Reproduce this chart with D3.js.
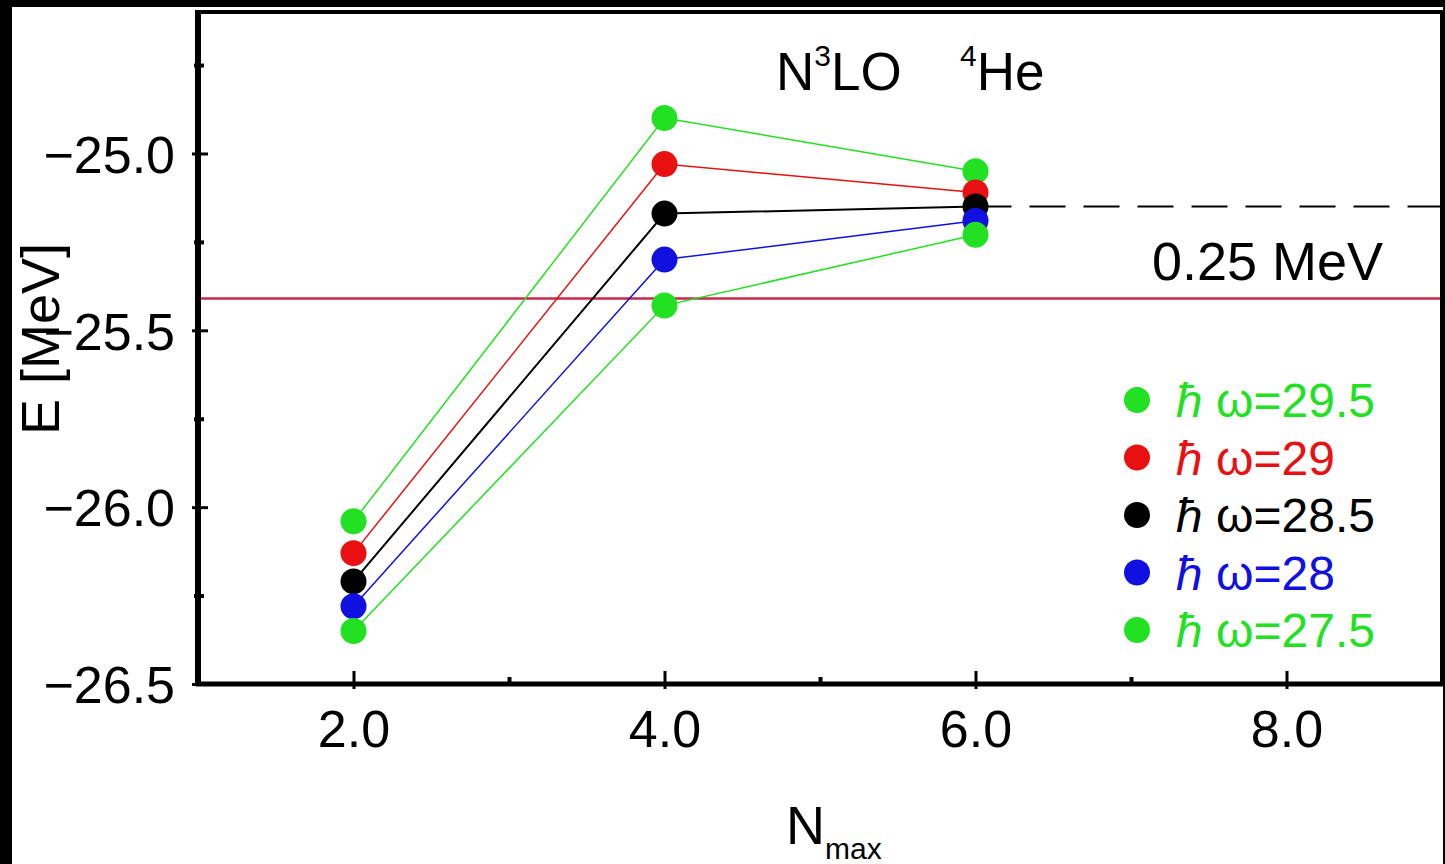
<!DOCTYPE html>
<html>
<head>
<meta charset="utf-8">
<script src="https://cdn.jsdelivr.net/npm/d3@7"></script>
<style>
  body { margin: 0; background: #000; }
  svg { display: block; }
  text { font-family: "Liberation Sans", Arial, sans-serif; }
</style>
</head>
<body>
<div id="chart"></div>
<script>
// data
const nmax = [2, 4, 6];
const hwLabels = ['29.5', '29', '28.5', '28', '27.5'];
const seriesColors = ['#22e022', '#e81010', '#000000', '#1010e0', '#22e022'];
const eHw295 = [-26.04, -24.90, -25.05];
const eHw29 = [-26.13, -25.03, -25.11];
const eHw285 = [-26.21, -25.17, -25.15];
const eHw28 = [-26.28, -25.30, -25.19];
const eHw275 = [-26.35, -25.43, -25.23];
const xTicks = [2, 4, 6, 8];
const yTicks = [-26.5, -26.0, -25.5, -25.0];
const extrapolated = -25.15;  // dashed line
const bandLine = -25.41;      // red line, 0.25 MeV below

const allSeries = [eHw295, eHw29, eHw285, eHw28, eHw275];

const W = 1445, H = 864;
const svg = d3.select('#chart').append('svg')
  .attr('width', W).attr('height', H);

// white paper, black edge strips around it
svg.append('rect').attr('x', 12).attr('y', 7)
  .attr('width', 1431).attr('height', H - 7).attr('fill', '#fff');

const x = d3.scaleLinear().domain([1, 9]).range([198, 1442]);
const y = d3.scaleLinear().domain([-26.5, -24.6]).range([684, 12]);

// red reference line
svg.append('line')
  .attr('x1', x(1)).attr('x2', x(9))
  .attr('y1', y(bandLine)).attr('y2', y(bandLine))
  .attr('stroke', '#c8284c').attr('stroke-width', 2.5);

// dashed extrapolation
svg.append('line')
  .attr('x1', x(6)).attr('x2', x(9))
  .attr('y1', y(extrapolated)).attr('y2', y(extrapolated))
  .attr('stroke', '#000').attr('stroke-width', 2)
  .attr('stroke-dasharray', '36 18');

const line = d3.line().x((d, i) => x(nmax[i])).y(d => y(d));

allSeries.forEach((s, k) => {
  svg.append('path')
    .datum(s)
    .attr('d', line)
    .attr('fill', 'none')
    .attr('stroke', seriesColors[k])
    .attr('stroke-width', k === 2 ? 2 : 1.5);
});

allSeries.forEach((s, k) => {
  svg.selectAll(null)
    .data(s)
    .enter()
    .append('circle')
    .attr('cx', (d, i) => x(nmax[i]))
    .attr('cy', d => y(d))
    .attr('r', 13)
    .attr('fill', seriesColors[k]);
});

// frame
svg.append('rect')
  .attr('x', x(1)).attr('y', y(-24.6))
  .attr('width', x(9) - x(1)).attr('height', y(-26.5) - y(-24.6))
  .attr('fill', 'none').attr('stroke', '#000').attr('stroke-width', 4);
svg.append('line').attr('x1', x(1)).attr('x2', x(1))
  .attr('y1', y(-24.6) - 2).attr('y2', y(-26.5) + 2)
  .attr('stroke', '#000').attr('stroke-width', 6);
svg.append('line').attr('x1', x(1) - 2).attr('x2', x(9) + 2)
  .attr('y1', y(-26.5)).attr('y2', y(-26.5))
  .attr('stroke', '#000').attr('stroke-width', 5);

// axes: major ticks cross the axis line, minor ticks are short
const xAxis = svg.append('g')
  .attr('transform', `translate(0,${y(-26.5)})`)
  .call(d3.axisBottom(x).tickValues(xTicks).tickSize(0).tickFormat(d3.format('.1f')));
xAxis.select('.domain').remove();
xAxis.selectAll('.tick line').attr('y1', -13).attr('y2', 5).attr('stroke-width', 3);
xAxis.selectAll('.tick text')
  .attr('y', 63).attr('dy', 0)
  .attr('font-size', 52).attr('fill', '#000')
  .attr('font-family', '"Liberation Sans", Arial, sans-serif');

const xMinor = svg.append('g')
  .attr('transform', `translate(0,${y(-26.5)})`)
  .call(d3.axisBottom(x).tickValues([3, 5, 7]).tickSize(0).tickFormat(''));
xMinor.select('.domain').remove();
xMinor.selectAll('.tick line').attr('y1', -7).attr('y2', 2).attr('stroke-width', 4);

const yAxis = svg.append('g')
  .attr('transform', `translate(${x(1)},0)`)
  .call(d3.axisLeft(y).tickValues(yTicks).tickSize(0)
    .tickFormat(d => d3.format('.1f')(d).replace('-', '\u2212')));
yAxis.select('.domain').remove();
yAxis.selectAll('.tick line').attr('x1', -6).attr('x2', 10).attr('stroke-width', 3);
yAxis.selectAll('.tick text')
  .attr('x', -23).attr('dy', '0.36em')
  .attr('font-size', 52).attr('fill', '#000')
  .attr('font-family', '"Liberation Sans", Arial, sans-serif');

const yMinor = svg.append('g')
  .attr('transform', `translate(${x(1)},0)`)
  .call(d3.axisLeft(y).tickValues([-26.25, -25.75, -25.25, -24.75]).tickSize(0).tickFormat(''));
yMinor.select('.domain').remove();
yMinor.selectAll('.tick line').attr('x1', -4).attr('x2', 6).attr('stroke-width', 4);

// title
const title = svg.append('text').attr('x', 776).attr('y', 90).attr('font-size', 53);
title.append('tspan').text('N');
title.append('tspan').text('3').attr('font-size', 30).attr('dy', -24);
title.append('tspan').text('LO').attr('dy', 24);
const he = svg.append('text').attr('x', 960).attr('y', 90).attr('font-size', 53);
he.append('tspan').text('4').attr('font-size', 30).attr('dy', -24);
he.append('tspan').text('He').attr('dy', 24);

svg.append('text').attr('x', 1152).attr('y', 280).attr('font-size', 54)
  .text('0.25 MeV');

// axis titles
const xl = svg.append('text').attr('x', 786).attr('y', 844).attr('font-size', 54);
xl.append('tspan').text('N');
xl.append('tspan').text('max').attr('font-size', 30).attr('dy', 15);

svg.append('text')
  .attr('transform', 'translate(59,339) rotate(-90)')
  .attr('text-anchor', 'middle')
  .attr('font-size', 54)
  .text('E [MeV]');

// legend
const legend = svg.append('g');
hwLabels.forEach((lab, k) => {
  const ly = 400 + k * 57.5;
  legend.append('circle').attr('cx', 1137).attr('cy', ly).attr('r', 13)
    .attr('fill', seriesColors[k]);
  const t = legend.append('text').attr('x', 1176).attr('y', ly + 17)
    .attr('font-size', 48).attr('fill', seriesColors[k]);
  t.append('tspan').text('\u0127').attr('font-style', 'italic');
  t.append('tspan').text('\u00a0\u03c9=' + lab);
});
</script>
</body>
</html>
